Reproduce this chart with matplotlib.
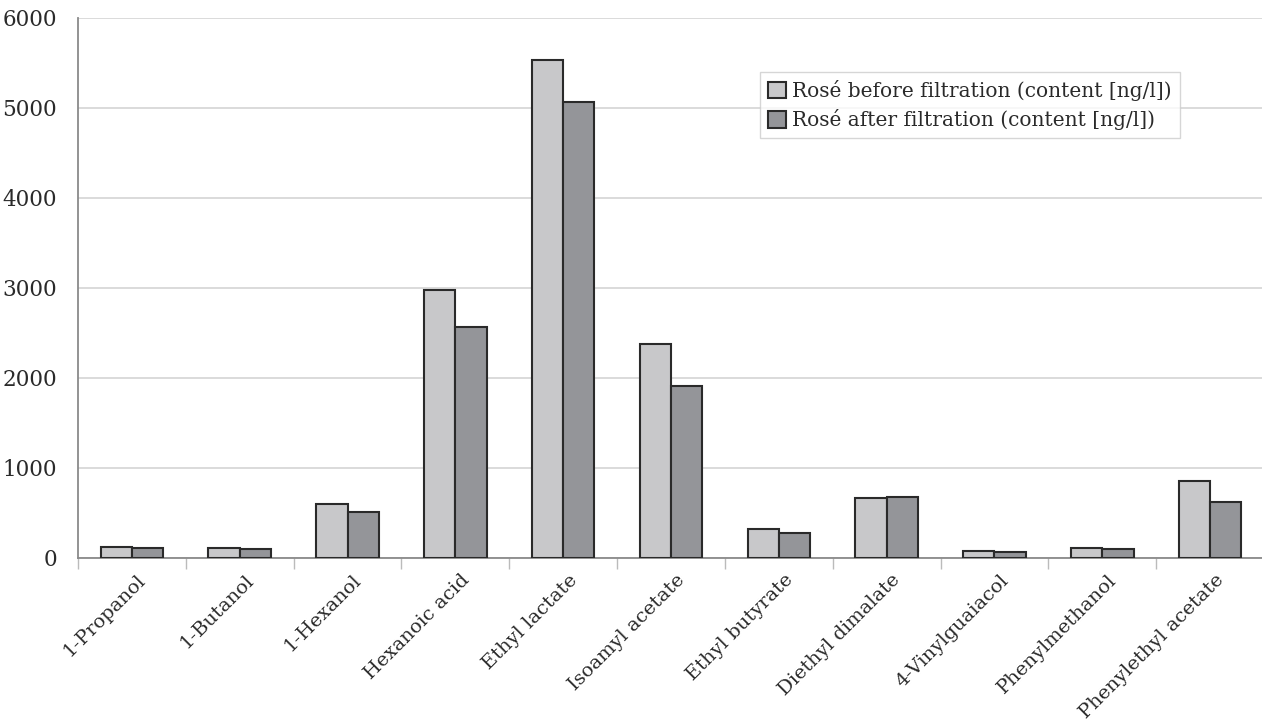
import matplotlib
matplotlib.use("Agg")
import matplotlib.pyplot as plt
from matplotlib.transforms import ScaledTranslation
import numpy as np

compounds = ["1-Propanol", "1-Butanol", "1-Hexanol", "Hexanoic acid", "Ethyl lactate",
             "Isoamyl acetate", "Ethyl butyrate", "Diethyl dimalate", "4-Vinylguaiacol",
             "Phenylmethanol", "Phenylethyl acetate"]
before = [126, 111, 600, 2978, 5533, 2378, 322, 667, 78, 111, 859]
after = [115, 100, 511, 2567, 5067, 1911, 278, 678, 63, 100, 619]
series_labels = ["Rosé before filtration (content [ng/l])",
                 "Rosé after filtration (content [ng/l])"]
yticks = [0, 1000, 2000, 3000, 4000, 5000, 6000]

plt.rcParams["font.family"] = ["DejaVu Serif"]

fig = plt.figure(figsize=(12.62, 7.22), dpi=100)
ax = fig.add_axes([78 / 1262, 1 - 558 / 722, 1186 / 1262, 540 / 722])

x = np.arange(len(compounds))
w = 0.29
edge = "#2a2a2a"
ax.bar(x - w / 2, before, w, color="#c8c8ca", edgecolor=edge, linewidth=1.5,
       label=series_labels[0], zorder=3)
ax.bar(x + w / 2, after, w, color="#949599", edgecolor=edge, linewidth=1.5,
       label=series_labels[1], zorder=3)

ax.set_xlim(-0.5, len(compounds) - 0.5)
ax.set_ylim(0, 6000)
ax.set_yticks(yticks)
ax.set_yticklabels([str(v) for v in yticks], fontsize=15.5, color="#2a2a2a")
ax.tick_params(axis="y", length=0, pad=15)

ax.set_xticks(x)
ax.set_xticklabels(compounds, rotation=45, ha="right", va="center",
                   rotation_mode="anchor", fontsize=14, color="#2a2a2a")
ax.tick_params(axis="x", length=0, pad=14)
offset = ScaledTranslation(8 / 72, 0, fig.dpi_scale_trans)
for lbl in ax.get_xticklabels():
    lbl.set_transform(lbl.get_transform() + offset)
ax.set_xticks(np.arange(len(compounds) + 1) - 0.5, minor=True)
ax.tick_params(axis="x", which="minor", length=8, color="#bbbbbb", width=1)

ax.yaxis.grid(True, color="#d4d4d4", linewidth=1.2, zorder=0)
ax.set_axisbelow(True)
for s in ["top", "right"]:
    ax.spines[s].set_visible(False)
ax.spines["left"].set_color("#8a8a8a")
ax.spines["left"].set_linewidth(1.3)
ax.spines["bottom"].set_color("#8a8a8a")
ax.spines["bottom"].set_linewidth(1.3)

leg = ax.legend(loc="upper left", bbox_to_anchor=((760 - 78) / 1186, 1 - (72 - 18) / 540),
                fontsize=14.5, frameon=True, fancybox=False, handlelength=0.9,
                handleheight=0.9, handletextpad=0.3, borderpad=0.4, labelspacing=0.4,
                borderaxespad=0)
leg.get_frame().set_edgecolor("#cccccc")
leg.get_frame().set_linewidth(1.0)
for t in leg.get_texts():
    t.set_color("#2a2a2a")

fig.savefig("out.png", dpi=100, facecolor="white")
